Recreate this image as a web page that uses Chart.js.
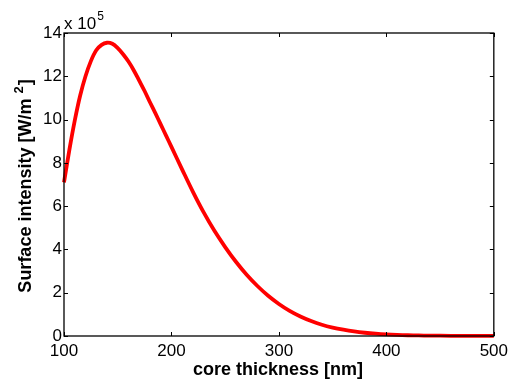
<!DOCTYPE html>
<html>
<head>
<meta charset="utf-8">
<script src="https://cdn.jsdelivr.net/npm/chart.js@4.4.1/dist/chart.umd.min.js"></script>
<style>
  html, body { margin: 0; padding: 0; background: #fff; }
  #wrap { width: 513px; height: 380px; position: relative; }
</style>
</head>
<body>
<div id="wrap"><canvas id="c" width="513" height="380"></canvas></div>
<script>
// core thickness [nm]
const thickness = [100, 105, 110, 115, 120, 125, 130, 135, 140, 145, 150, 155, 160, 165, 170, 175, 180, 185, 190, 195, 200, 210, 220, 230, 240, 250, 260, 270, 280, 290, 300, 310, 320, 330, 340, 350, 360, 370, 380, 390, 400, 410, 420, 430, 440, 460, 480, 500];
// surface intensity [x 10^5 W/m^2]
const intensity = [7.1, 8.6, 9.95, 11.1, 12.0, 12.7, 13.2, 13.45, 13.55, 13.5, 13.3, 13.02, 12.68, 12.27, 11.8, 11.32, 10.8, 10.3, 9.78, 9.26, 8.74, 7.69, 6.66, 5.71, 4.86, 4.11, 3.43, 2.83, 2.31, 1.86, 1.48, 1.16, 0.9, 0.69, 0.52, 0.39, 0.29, 0.21, 0.15, 0.105, 0.072, 0.05, 0.035, 0.025, 0.018, 0.009, 0.004, 0.002];
const xTicks = [100, 200, 300, 400, 500];
const yTicks = [0, 2, 4, 6, 8, 10, 12, 14];

const FONT = '"Liberation Sans", Arial, sans-serif';

const points = thickness.map((x, i) => ({ x: x, y: intensity[i] }));

const decor = {
  id: 'decor',
  afterDraw(chart) {
    const ctx = chart.ctx;
    const xs = chart.scales.x, ys = chart.scales.y;
    const a = chart.chartArea;
    ctx.save();
    // inward ticks
    ctx.strokeStyle = '#000';
    ctx.lineWidth = 1;
    const L = 4;
    ctx.beginPath();
    xTicks.forEach(v => {
      const px = Math.round(xs.getPixelForValue(v)) + 0.5;
      ctx.moveTo(px, a.bottom); ctx.lineTo(px, a.bottom - L);
      ctx.moveTo(px, a.top); ctx.lineTo(px, a.top + L);
    });
    yTicks.forEach(v => {
      const py = Math.round(ys.getPixelForValue(v)) + 0.5;
      ctx.moveTo(a.left, py); ctx.lineTo(a.left + L, py);
      ctx.moveTo(a.right, py); ctx.lineTo(a.right - L, py);
    });
    ctx.stroke();
    // box
    ctx.lineWidth = 1.3;
    ctx.strokeRect(a.left, a.top, a.right - a.left, a.bottom - a.top);

    ctx.fillStyle = '#000';
    // exponent label
    ctx.font = '17px ' + FONT;
    ctx.textBaseline = 'alphabetic';
    ctx.textAlign = 'left';
    ctx.fillText('x 10', a.left, a.top - 4);
    const w10 = ctx.measureText('x 10').width;
    ctx.font = '12px ' + FONT;
    ctx.fillText('5', a.left + w10 + 1, a.top - 13);

    // x title
    ctx.font = 'bold 18px ' + FONT;
    ctx.textAlign = 'center';
    ctx.fillText('core thickness [nm]', (a.left + a.right) / 2 - 1, 375);

    // y title with superscript
    ctx.translate(31, (a.top + a.bottom) / 2 + 2);
    ctx.rotate(-Math.PI / 2);
    const main = 'Surface intensity [W/m ';
    ctx.font = 'bold 18px ' + FONT;
    const wMain = ctx.measureText(main).width;
    ctx.font = 'bold 13px ' + FONT;
    const wSup = ctx.measureText('2').width;
    ctx.font = 'bold 18px ' + FONT;
    const wEnd = ctx.measureText(']').width;
    const total = wMain + wSup + wEnd;
    let sx = -total / 2;
    ctx.textAlign = 'left';
    ctx.fillText(main, sx, 0);
    ctx.font = 'bold 13px ' + FONT;
    ctx.fillText('2', sx + wMain, -8);
    ctx.font = 'bold 18px ' + FONT;
    ctx.fillText(']', sx + wMain + wSup + 1, 0);
    ctx.restore();
  }
};

new Chart(document.getElementById('c'), {
  type: 'line',
  data: {
    datasets: [{
      data: points,
      borderColor: '#ff0000',
      borderWidth: 3.8,
      pointRadius: 0,
      fill: false,
      tension: 0.35,
      borderJoinStyle: 'round',
      clip: false
    }]
  },
  options: {
    responsive: false,
    animation: false,
    devicePixelRatio: 1,
    layout: { padding: 0 },
    plugins: { legend: { display: false }, tooltip: { enabled: false } },
    scales: {
      x: {
        type: 'linear',
        min: 100, max: 500,
        afterFit(s) { s.height = 44; },
        afterBuildTicks(s) { s.ticks = xTicks.map(v => ({ value: v })); },
        grid: { display: false, drawTicks: false },
        border: { display: false },
        ticks: { color: '#000', font: { family: FONT, size: 17 }, padding: 5, maxRotation: 0 }
      },
      y: {
        type: 'linear',
        min: 0, max: 14,
        afterFit(s) { s.width = 64; },
        afterBuildTicks(s) { s.ticks = yTicks.map(v => ({ value: v })); },
        grid: { display: false, drawTicks: false },
        border: { display: false },
        ticks: { color: '#000', font: { family: FONT, size: 17 }, padding: 2 }
      },
      x2: {
        type: 'linear', position: 'top', min: 100, max: 500,
        afterFit(s) { s.height = 33; },
        grid: { display: false, drawTicks: false },
        border: { display: false },
        ticks: { display: false }
      },
      y2: {
        type: 'linear', position: 'right', min: 0, max: 14,
        afterFit(s) { s.width = 18; },
        grid: { display: false, drawTicks: false },
        border: { display: false },
        ticks: { display: false }
      }
    }
  },
  plugins: [decor]
});
</script>
</body>
</html>
